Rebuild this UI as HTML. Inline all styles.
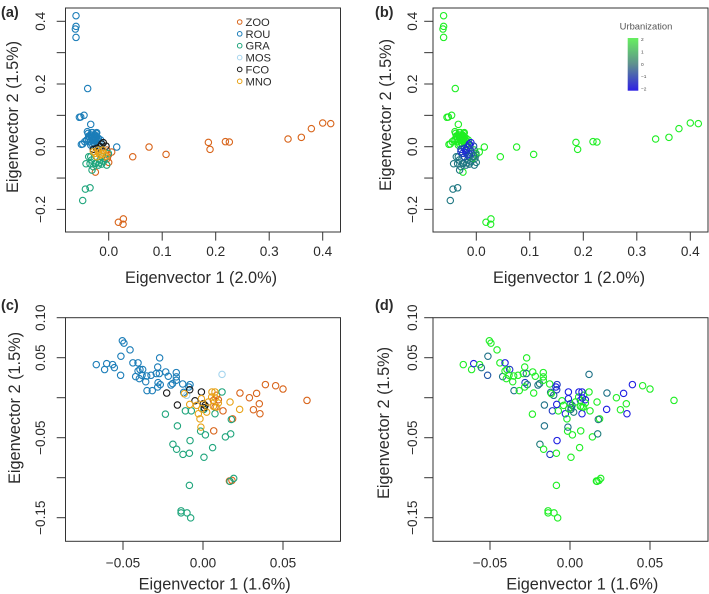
<!DOCTYPE html>
<html lang="en">
<head>
<meta charset="utf-8">
<title>Eigenvector scatter plots</title>
<style>
html,body{margin:0;padding:0;background:#fff;width:709px;height:594px;overflow:hidden}
svg{display:block;filter:blur(0.3px)}
text{font-family:"Liberation Sans",Arial,sans-serif;fill:#2b2b2b}
</style>
</head>
<body>
<svg id="chart" xmlns="http://www.w3.org/2000/svg" width="709" height="594" viewBox="0 0 709 594"></svg>
<script>
// Panel (a)/(b) data: eigenvector 1, eigenvector 2, urbanization
const abZooX=[.0056,.0449,.0754,.1072,.1863,.1894,.2181,.2255,.3352,.3601,.3788,.4,.415,.0181,.0274,.0268,-.0249,0,-.0037,-.0006,-.0025];
const abZooY=[-.0171,-.032,-.0011,-.0245,.0139,-.0085,.016,.0149,.0245,.0299,.0576,.0757,.0736,-.2409,-.2303,-.2473,-.081,-.0501,-.0107,-.0267,-.0373];
const abZooU=[2,2,2,2,2,2,2,2,2,2,2,2,2,2,2,2,2,-.3,1,-.3,-.3];
const abRouX=[-.0611,-.0611,-.0623,-.0611,-.0393,-.0461,-.0548,-.0523,-.0336,-.0399,-.0386,-.0361,.015,-.0511,-.0486,-.0449,-.0411,-.0318,-.0287,-.0255,-.0224,-.0299,-.0255,-.0349,-.0287,-.0224,-.0193,-.0162,-.0349,-.0268,-.0318,-.038,-.0212,-.0318,-.0268,-.0336,-.0237,-.0336,-.0299,-.0224,-.0274,-.0237,-.0187,-.015,-.0312,-.0374,-.0255,-.0199];
const abRouY=[.4179,.3838,.3753,.3486,.1855,.1002,.0938,.0949,.0714,.048,.0426,.032,-.0011,.0075,.0085,.016,.0213,.0373,.032,.0373,.032,.0213,.0213,.0267,.0128,.016,.0267,.0107,.016,.0299,.0299,.0235,.0213,.0448,.0107,.0053,.0426,.0373,.0448,.0448,.0235,.0299,.0171,.0213,.0085,.0341,.0043,.0064];
const abRouU=[2,2,2,2,2,2,2,2,2,2,2,2,2,2,2,2,2,2,2,2,2,2,2,2,2,2,2,2,2,2,2,2,2,2,2,2,2,2,2,2,2,2,2,2,2,2,2,2];
const abGraX=[-.0374,-.0424,-.0349,-.0312,-.0237,-.0436,-.0349,-.0486,-.0037,-.0162,-.0224,-.0131,-.01,-.0287,-.0255,-.0193,-.0069,-.0336,-.0318,-.0174,-.0131,-.0006];
const abGraY=[-.032,-.0544,-.0544,-.0746,-.0533,-.1354,-.1311,-.1716,-.0586,-.0426,-.032,-.032,-.048,-.064,-.0533,-.0586,-.0373,-.032,-.0426,-.0512,-.0554,-.0213];
const abGraU=[-.4,-.4,-.4,-.4,-.4,-.4,-.4,-.4,-.4,-.6,-.4,-.4,-.4,-.4,-.4,-.4,1,-.4,-.4,-.4,-.4,1];
const abMosX=[-.018,-.012];
const abMosY=[-.012,.004];
const abMosU=[-.5,-.5];
const abFcoX=[-.01,-.0287,-.0162,-.005,-.0224,-.0131];
const abFcoY=[.0128,-.0085,0,.002,-.0053,.0085];
const abFcoU=[-2,-1.5,-1.5,-1,-1.5,-2];
const abMnoX=[-.0255,-.0193,-.0131,-.0224,-.0162,-.0087,-.0287,-.0193,-.0112,-.005];
const abMnoY=[-.0213,-.0192,-.0235,-.032,-.0267,-.0213,-.016,-.0107,-.0107,-.0299];
const abMnoU=[-1.5,-2,-1.7,-1,-1.5,-1,-1.5,-2,-1.2,-.4];

// Panel (c)/(d) data
const cdZooX=[.039,.0454,.05,.065,.0231,.029,.0335,.0352,.0315,.0356,.0067,.0185,.0165,.0181,.0125,.0065,.0085,.0096,.0075];
const cdZooY=[.0164,.015,.0108,-.0034,.0058,0,.0054,-.0076,-.015,-.02,-.0414,-.0264,-.1042,-.1034,-.0164,-.0034,.003,-.0026,-.0118];
const cdZooU=[-2,2,2,2,-.5,2,-2,2,2,-2,2,2,2,2,2,-2,2,-2,2];
const cdRouX=[-.0667,-.0615,-.0602,-.0565,-.0554,-.0515,-.0513,-.0504,-.0494,-.0456,-.0438,-.0406,-.0421,-.0406,-.0394,-.0377,-.0398,-.0381,-.0358,-.0352,-.035,-.0325,-.0317,-.0292,-.0283,-.0271,-.0273,-.0233,-.0217,-.0281,-.0267,-.0283,-.02,-.019,-.0167,-.0167,-.0167,-.0127,-.0081,-.0088,-.0121];
const cdRouY=[.0414,.0352,.0426,.0414,.0376,.028,.0518,.0712,.0682,.0598,.0436,.0436,.0264,.0334,.0352,.0352,.0238,.028,.02,.0272,.0088,.028,.0088,.0302,.0384,.0498,.0302,.0322,.0268,.0188,.0164,.0134,.0158,.0176,.0314,.026,.0218,.0172,.0164,.0134,.0066];
const cdRouU=[2,2,-2,2,-.5,-1,-.5,2,2,2,2,-2,-.5,2,2,-1.5,2,2,2,2,-.5,2,2,2,2,2,-.5,2,2,-1.5,-.3,2,-.5,-.3,2,2,2,2,-1.5,-2,-.5];
const cdGraX=[-.0235,-.011,-.0073,-.016,-.0015,.0015,-.0081,-.0188,-.0165,-.0125,-.0085,.0006,.006,.014,.0173,.0177,.0119,.0075,.0006,-.0085,.0192,.0169,-.0137,-.0137,-.01,-.0077];
const cdGraY=[-.0206,-.0164,-.0164,-.0352,-.0418,-.0464,-.0536,-.0582,-.0644,-.0708,-.0694,-.0744,-.0624,-.049,-.0452,-.0272,.0072,-.02,-.0146,-.1096,-.1008,-.1046,-.1414,-.144,-.144,-.1502];
const cdGraU=[2,-1.5,2,-.5,2,2,-2,-.3,2,-1.5,2,2,2,2,-.3,-.3,2,-2,-.3,2,2,2,2,2,2,2];
const cdMosX=[.0119,-.0102];
const cdMosY=[.0292,.003];
const cdMosU=[-.5,-.5];
const cdFcoX=[-.0227,-.016,-.0083,-.005,-.001,.0002,.0008,.0013];
const cdFcoY=[.0058,-.0092,.01,-.0038,.0072,-.0076,-.0126,-.0096];
const cdFcoU=[2,-.5,-1.5,2,-2,-.5,-.5,-.5];
const cdMnoX=[.0056,-.001,-.0083,-.004,-.0029,-.0019,-.0013,-.0117,.0169,.0229,.0023,.0065,.0096,.0085,.0054,.0033,-.0008,.0075,.0077];
const cdMnoY=[.0072,-.0012,-.0084,-.0096,-.02,-.0264,-.0368,.005,-.0054,-.0146,-.018,-.0108,-.0066,-.0118,.0008,-.0054,-.0138,.0072,-.0004];
const cdMnoU=[-2,-2,-2,2,-2,2,-.5,2,2,-2,-.3,2,2,2,2,2,2,-2,-2];

// Axis ticks and labels
const abXTicks=[0,.1,.2,.3,.4];
const abXLabels=["0.0","0.1","0.2","0.3","0.4"];
const abYTicks=[-.2,-.1,0,.1,.2,.3,.4];
const abYLabels=["\u22120.2","","0.0","","0.2","","0.4"];
const cdXTicks=[-.05,0,.05];
const cdXLabels=["\u22120.05","0.00","0.05"];
const cdYTicks=[-.15,-.1,-.05,0,.05,.1];
const cdYLabels=["\u22120.15","","\u22120.05","","0.05","0.10"];

// Legends
const groupNames=["ZOO","ROU","GRA","MOS","FCO","MNO"];
const groupColors=["#D8641A","#1B7DB8","#1FA57C","#A6D5EE","#1a1a1a","#E8A318"];
const urbanLabels=["2","1","0","\u22121","\u22122"];

const abSeriesX=[abZooX,abRouX,abGraX,abMosX,abFcoX,abMnoX];
const abSeriesY=[abZooY,abRouY,abGraY,abMosY,abFcoY,abMnoY];
const abSeriesU=[abZooU,abRouU,abGraU,abMosU,abFcoU,abMnoU];
const cdSeriesX=[cdZooX,cdRouX,cdGraX,cdMosX,cdFcoX,cdMnoX];
const cdSeriesY=[cdZooY,cdRouY,cdGraY,cdMosY,cdFcoY,cdMnoY];
const cdSeriesU=[cdZooU,cdRouU,cdGraU,cdMosU,cdFcoU,cdMnoU];

const NS="http://www.w3.org/2000/svg";
const svg=document.getElementById("chart");

function make(tag,attrs,parent,txt){
  const e=document.createElementNS(NS,tag);
  for(const k in attrs)e.setAttribute(k,attrs[k]);
  if(txt!==undefined)e.textContent=txt;
  (parent||svg).appendChild(e);
  return e;
}
function linear(d0,p0,d1,p1){return v=>p0+(v-d0)*(p1-p0)/(d1-d0);}
function urbanColor(u){
  const t=(u+2)/4;
  const g=t<.5?30+(140-30)*t*2:140+(238-140)*(t-.5)*2;
  const b=t<.5?225+(105-225)*t*2:105+(35-105)*(t-.5)*2;
  return "rgb(30,"+Math.round(g)+","+Math.round(b)+")";
}

function drawPanel(p){
  const g=make("g",{},svg);
  
  
  const box=make("rect",{x:p.left,y:p.top,width:p.right-p.left,height:p.bottom-p.top,fill:"#fff",stroke:"#333","stroke-width":1},g);
  
  

  p.xTicks.forEach(function(v,i){
    const x=p.sx(v);
    const t=make("line",{x1:x,x2:x,y1:p.bottom,y2:p.bottom+8.6,stroke:"#333","stroke-width":1},g);
    
    
    const l=make("text",{x:x,y:p.bottom+(p.xLabelGap),"text-anchor":"middle","font-size":13.6},g,p.xLabels[i]);
    
    
  });
  p.yTicks.forEach(function(v,i){
    const y=p.sy(v);
    const t=make("line",{x1:p.left-8.8,x2:p.left,y1:y,y2:y,stroke:"#333","stroke-width":1},g);
    
    
    if(p.yLabels[i]){
      const l=make("text",{transform:"translate("+p.yLabelX+","+y+") rotate(-90)","text-anchor":"middle","font-size":13.6},g,p.yLabels[i]);
      
      
    }
  });

  const xt=make("text",{x:p.xTitleX,y:p.xTitleY,"text-anchor":"middle","font-size":16.3},g,p.xTitle);
  
  
  const yt=make("text",{transform:"translate("+p.yTitleX+","+p.yTitleY+") rotate(-90)","text-anchor":"middle","font-size":16.3},g,p.yTitle);
  
  
  const tag=make("text",{x:p.tagX,y:p.tagY,"font-size":14.5,"font-weight":"bold",fill:"#111"},g,p.tag);
  
  

  p.xs.forEach(function(xv,si){
    xv.forEach(function(v,i){
      const stroke=p.byUrban?urbanColor(p.us[si][i]):groupColors[si];
      const c=make("circle",{cx:p.sx(v),cy:p.sy(p.ys[si][i]),r:3.2,fill:"none",stroke:stroke,"stroke-width":1.1},g);
      
      
    });
  });
}

const abY=linear(0,146.7,.4,21.3);
const cdY=linear(0,397.7,.05,357.7);

drawPanel({name:"panel-a",left:65.5,right:340.5,top:8,bottom:232,sx:linear(0,108.7,.4,322.7),sy:abY,
  xTicks:abXTicks,xLabels:abXLabels,yTicks:abYTicks,yLabels:abYLabels,xLabelGap:24,yLabelX:45,
  xTitle:"Eigenvector 1 (2.0%)",yTitle:"Eigenvector 2 (1.5%)",xTitleX:201,xTitleY:283,yTitleX:18,yTitleY:117,
  tag:"(a)",tagX:1,tagY:17,xs:abSeriesX,ys:abSeriesY,us:abSeriesU,byUrban:false});
drawPanel({name:"panel-b",left:433,right:708,top:8,bottom:232,sx:linear(0,476.3,.4,690.3),sy:abY,
  xTicks:abXTicks,xLabels:abXLabels,yTicks:abYTicks,yLabels:abYLabels,xLabelGap:24,yLabelX:417,
  xTitle:"Eigenvector 1 (2.0%)",yTitle:"Eigenvector 2 (1.5%)",xTitleX:569,xTitleY:283,yTitleX:391,yTitleY:115,
  tag:"(b)",tagX:375,tagY:17,xs:abSeriesX,ys:abSeriesY,us:abSeriesU,byUrban:true});
drawPanel({name:"panel-c",left:65.5,right:340.5,top:317.7,bottom:541.3,sx:linear(0,203,.05,283),sy:cdY,
  xTicks:cdXTicks,xLabels:cdXLabels,yTicks:cdYTicks,yLabels:cdYLabels,xLabelGap:26,yLabelX:45,
  xTitle:"Eigenvector 1 (1.6%)",yTitle:"Eigenvector 2 (1.5%)",xTitleX:214.7,xTitleY:589.5,yTitleX:20,yTitleY:408,
  tag:"(c)",tagX:1,tagY:310,xs:cdSeriesX,ys:cdSeriesY,us:cdSeriesU,byUrban:false});
drawPanel({name:"panel-d",left:433,right:708,top:317.7,bottom:541.3,sx:linear(0,570,.05,650),sy:cdY,
  xTicks:cdXTicks,xLabels:cdXLabels,yTicks:cdYTicks,yLabels:cdYLabels,xLabelGap:26,yLabelX:417,
  xTitle:"Eigenvector 1 (1.6%)",yTitle:"Eigenvector 2 (1.5%)",xTitleX:582.3,xTitleY:589.5,yTitleX:389,yTitleY:423,
  tag:"(d)",tagX:375,tagY:310,xs:cdSeriesX,ys:cdSeriesY,us:cdSeriesU,byUrban:true});

// Group legend in panel (a)
const legend=make("g",{},svg);


groupNames.forEach(function(n,i){
  const y=22+i*11.86;
  const m=make("circle",{cx:239.7,cy:y,r:2.3,fill:"none",stroke:groupColors[i],"stroke-width":1},legend);
  
  
  const t=make("text",{x:245.5,y:y+4,"font-size":11.2},legend,n);
  
  
});

// Urbanization colour bar in panel (b)
const defs=make("defs",{},svg);
const grad=make("linearGradient",{id:"urbanGrad",x1:0,y1:0,x2:0,y2:1},defs);
make("stop",{offset:"0","stop-color":"#66F05F"},grad);
make("stop",{offset:"0.5","stop-color":"#5F8F8F"},grad);
make("stop",{offset:"1","stop-color":"#2E20E4"},grad);
const urbanLegend=make("g",{},svg);


const ut=make("text",{x:646,y:29.3,"text-anchor":"middle","font-size":9.4,style:"fill:#555"},urbanLegend,"Urbanization");


const bar=make("rect",{x:627.7,y:38,width:10.6,height:52.7,fill:"url(#urbanGrad)"},urbanLegend);


urbanLabels.forEach(function(l,i){
  const t=make("text",{x:641,y:41+i*12.4,"font-size":4.8,style:"fill:#444"},urbanLegend,l);
  
  
});
</script>
</body>
</html>
